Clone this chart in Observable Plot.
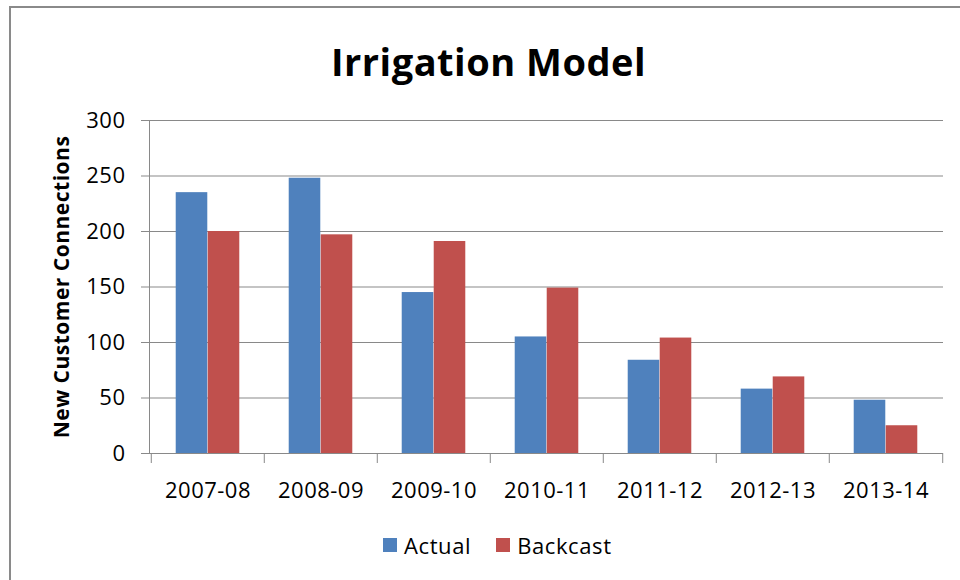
<!DOCTYPE html>
<html>
<head>
<meta charset="utf-8">
<script src="https://cdn.jsdelivr.net/npm/d3@7"></script>
<script src="https://cdn.jsdelivr.net/npm/@observablehq/plot@0.6"></script>
<style>
  html, body { margin: 0; padding: 0; background: #fff; }
  #wrap { position: relative; width: 960px; height: 580px; overflow: hidden; background: #fff; font-family: 'Open Sans', sans-serif; }
  #borderTop { position: absolute; left: 9px; top: 6px; width: 960px; height: 2px; background: #8a8a8a; }
  #borderLeft { position: absolute; left: 9px; top: 6px; width: 2px; height: 580px; background: #8a8a8a; }
  #chart { position: absolute; left: 0; top: 0; }
  #chart svg text { letter-spacing: 0.5px; }
  #legend { position: absolute; left: 383px; top: 530px; letter-spacing: 0.6px; }
  #legend > div { margin: 0 !important; min-height: 0 !important; align-items: center; }
  #legend span { margin-right: 25px !important; display: inline-flex; align-items: center; }
  #legend svg { margin-right: 7px !important; }
</style>
</head>
<body>
<div id="wrap">
  <div id="borderTop"></div>
  <div id="borderLeft"></div>
  <div id="chart"></div>
  <div id="legend"></div>
</div>
<script>
const categories = ["2007-08", "2008-09", "2009-10", "2010-11", "2011-12", "2012-13", "2013-14"];
const actual   = [235, 248, 145, 105, 84, 58, 48];
const backcast = [200, 197, 191, 149, 104, 69, 25];
const series = ["Actual", "Backcast"];
const colors = ["#4F81BD", "#C0504D"];
const yTicks = [0, 50, 100, 150, 200, 250, 300];
const titleText = "Irrigation Model";
const yLabel = "New Customer Connections";

const table = [];
categories.forEach((c, i) => {
  table.push({category: c, series: "Actual", value: actual[i]});
  table.push({category: c, series: "Backcast", value: backcast[i]});
});

const W = 960, H = 525, mL = 149, mR = 17, mT = 120, mB = H - 453;
const bw = (W - mL - mR) / categories.length;
const barW = 32;
const side = (bw - 2 * barW) / 2;
const grey = "#898989";

const chart = Plot.plot({
  width: W, height: H,
  marginLeft: mL, marginRight: mR, marginTop: mT, marginBottom: mB,
  style: {fontFamily: "'Open Sans', sans-serif", background: "transparent", overflow: "visible", color: "#000"},
  x: {type: "band", domain: categories, paddingInner: 0, paddingOuter: 0, axis: null},
  y: {domain: [0, 300], axis: null},
  color: {domain: series, range: colors},
  marks: [
    Plot.gridY(yTicks, {stroke: grey, strokeOpacity: 1}),
    Plot.barY(table.filter(d => d.series === "Actual"), {x: "category", y: "value", fill: "series", insetLeft: side, insetRight: side + barW}),
    Plot.barY(table.filter(d => d.series === "Backcast"), {x: "category", y: "value", fill: "series", insetLeft: side + barW, insetRight: side}),
    Plot.ruleY([0], {stroke: grey}),
    Plot.frame({anchor: "left", stroke: grey}),
    Plot.axisY(yTicks, {tickSize: 8, tickPadding: 16, fontSize: 22, stroke: grey, strokeOpacity: 1, fill: "#000", label: null}),
    Plot.axisX(categories, {tickSize: 0, tickPadding: 29, fontSize: 22, fill: "#000", label: null}),
    Plot.axisX(categories, {tickSize: 10, tickFormat: () => "", dx: -bw / 2, stroke: grey, strokeOpacity: 1, label: null}),
    Plot.axisX([categories[categories.length - 1]], {tickSize: 10, tickFormat: () => "", dx: bw / 2, stroke: grey, strokeOpacity: 1, label: null}),
    Plot.text([titleText], {text: d => d, frameAnchor: "top", dx: -58, dy: -56.5, lineAnchor: "middle", textAnchor: "middle", fontSize: 38, fontWeight: "bold", fill: "#000"}),
    Plot.text([yLabel], {text: d => d, frameAnchor: "left", dx: -87, rotate: -90, lineAnchor: "middle", textAnchor: "middle", fontSize: 21, fontWeight: "bold", fill: "#000"})
  ]
});
document.getElementById("chart").appendChild(chart);

const legend = Plot.legend({
  color: {domain: series, range: colors},
  legend: "swatches",
  swatchSize: 14,
  style: {fontFamily: "'Open Sans', sans-serif", fontSize: "22px", color: "#000"}
});
document.getElementById("legend").appendChild(legend);
</script>
</body>
</html>
